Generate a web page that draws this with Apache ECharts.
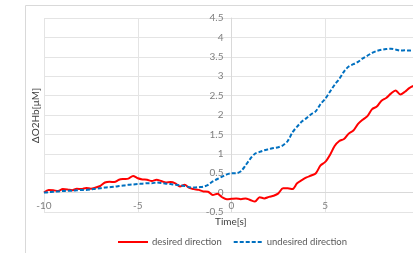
<!DOCTYPE html>
<html>
<head>
<meta charset="utf-8">
<script src="https://cdn.jsdelivr.net/npm/echarts@6/dist/echarts.min.js"></script>
<style>
  html, body { margin: 0; padding: 0; background: #fff; overflow: hidden; }
  #chart { width: 413px; height: 253px; }
</style>
</head>
<body>
<div id="chart"></div>
<script>
// time axis, 0.25 s step
var timeSec = [];
for (var i = 0; i <= 80; i++) { timeSec.push(-10 + i * 0.25); }

var desired = [
  0.0, 0.07, 0.06, 0.04, 0.09, 0.08, 0.06, 0.1, 0.09, 0.12,
  0.1, 0.13, 0.17, 0.26, 0.28, 0.27, 0.33, 0.35, 0.36, 0.43,
  0.37, 0.34, 0.33, 0.30, 0.33, 0.30, 0.26, 0.27, 0.24, 0.16,
  0.20, 0.12, 0.09, 0.07, 0.03, 0.02, -0.06, -0.03, -0.12, -0.17,
  -0.16, -0.15, -0.17, -0.15, -0.19, -0.23, -0.12, -0.15, -0.11, -0.08,
  -0.02, 0.11, 0.11, 0.09, 0.24, 0.32, 0.39, 0.44, 0.5, 0.70,
  0.79, 0.97, 1.2, 1.33, 1.38, 1.52, 1.6, 1.77, 1.88, 1.97,
  2.15, 2.22, 2.37, 2.44, 2.55, 2.63, 2.53, 2.6, 2.7, 2.75,
  2.72
];

var undesired = [
  0.0, 0.01, 0.02, 0.03, 0.04, 0.05, 0.05, 0.06, 0.07, 0.07,
  0.08, 0.1, 0.11, 0.13, 0.14, 0.15, 0.17, 0.18, 0.2, 0.21,
  0.22, 0.23, 0.24, 0.24, 0.26, 0.25, 0.23, 0.22, 0.2, 0.19,
  0.17, 0.14, 0.13, 0.14, 0.15, 0.2, 0.29, 0.35, 0.41, 0.47,
  0.5, 0.5, 0.55, 0.7, 0.87, 1.0, 1.05, 1.09, 1.12, 1.15,
  1.17, 1.22, 1.33, 1.55, 1.7, 1.83, 1.92, 2.02, 2.1, 2.28,
  2.42, 2.6, 2.78, 2.93, 3.12, 3.25, 3.31, 3.37, 3.46, 3.53,
  3.6, 3.65, 3.68, 3.70, 3.71, 3.69, 3.66, 3.67, 3.66, 3.67,
  3.67
];

var seriesNames = ['desired direction', 'undesired direction'];

var xRange = [-10, 10];
var yRange = [-0.5, 4.5];

function pairs(ys) {
  return ys.map(function (y, k) { return [timeSec[k], y]; });
}

var myChart = echarts.init(document.getElementById('chart'), null, { renderer: 'canvas' });
var fontFam = 'Lato';

// plot box; the axes cross at (0, 0) like the Excel original
var gridLeft = 44, gridRight = -6, gridTop = 18, gridBottom = 41;
var plotW = 413 - gridLeft - gridRight;
var plotH = 253 - gridTop - gridBottom;
var yAxisShift = plotW * (0 - xRange[0]) / (xRange[1] - xRange[0]);
var xAxisShift = plotH * (0 - yRange[0]) / (yRange[1] - yRange[0]);

// legend icons: solid bar and dashed bar
var solidIcon = 'path://M0,0h30v2h-30z';
var dashIcon = 'path://M0,0h4v2h-4zM6,0h4v2h-4zM12,0h4v2h-4zM18,0h4v2h-4zM24,0h4v2h-4z';

var option = {
  animation: false,
  textStyle: { fontFamily: fontFam },
  graphic: [
    {
      type: 'rect',
      shape: { x: 25.5, y: 5.5, width: 500, height: 300 },
      style: { fill: 'none', stroke: '#d9d9d9', lineWidth: 1 },
      silent: true
    },
    {
      type: 'text',
      left: 31, top: 88,
      rotation: Math.PI / 2,
      style: {
        text: 'ΔO2Hb[μM]', fill: '#404040',
        font: '10px ' + fontFam
      }
    },
    {
      type: 'text',
      left: 215, top: 217,
      style: {
        text: 'Time[s]', fill: '#404040',
        font: '10px ' + fontFam
      }
    }
  ],
  grid: {
    left: gridLeft, right: gridRight, top: gridTop, bottom: gridBottom,
    outerBoundsMode: 'none', containLabel: false
  },
  legend: {
    data: [
      { name: seriesNames[0], icon: solidIcon },
      { name: seriesNames[1], icon: dashIcon }
    ],
    left: 118, top: 237, padding: 0,
    itemWidth: 30, itemHeight: 2, itemGap: 12,
    textStyle: { color: '#595959', fontSize: 9.5, fontFamily: fontFam, padding: [0, 0, 0, -1] }
  },
  xAxis: {
    type: 'value', min: xRange[0], max: xRange[1], interval: 5,
    position: 'bottom', offset: -xAxisShift,
    axisLine: { onZero: false, lineStyle: { color: '#d9d9d9' } },
    axisTick: { show: false },
    axisLabel: { color: '#7f7f7f', fontSize: 10, margin: 8 },
    splitLine: { lineStyle: { color: '#e4e4e4', width: 1 } }
  },
  yAxis: {
    type: 'value', min: yRange[0], max: yRange[1], interval: 0.5,
    position: 'left', offset: -yAxisShift,
    axisLine: { show: true, onZero: false, lineStyle: { color: '#d9d9d9' } },
    axisTick: { show: false },
    axisLabel: { color: '#7f7f7f', fontSize: 10, margin: 8 },
    splitLine: { lineStyle: { color: '#e4e4e4', width: 1 } }
  },
  series: [
    {
      name: seriesNames[0], type: 'line', data: pairs(desired),
      symbol: 'none', smooth: 0.3,
      lineStyle: { color: '#ff0000', width: 2 },
      itemStyle: { color: '#ff0000' }
    },
    {
      name: seriesNames[1], type: 'line', data: pairs(undesired),
      symbol: 'none', smooth: 0.3,
      lineStyle: { color: '#0070c0', width: 2, type: [4, 2] },
      itemStyle: { color: '#0070c0' }
    }
  ]
};

myChart.setOption(option);
</script>
</body>
</html>
